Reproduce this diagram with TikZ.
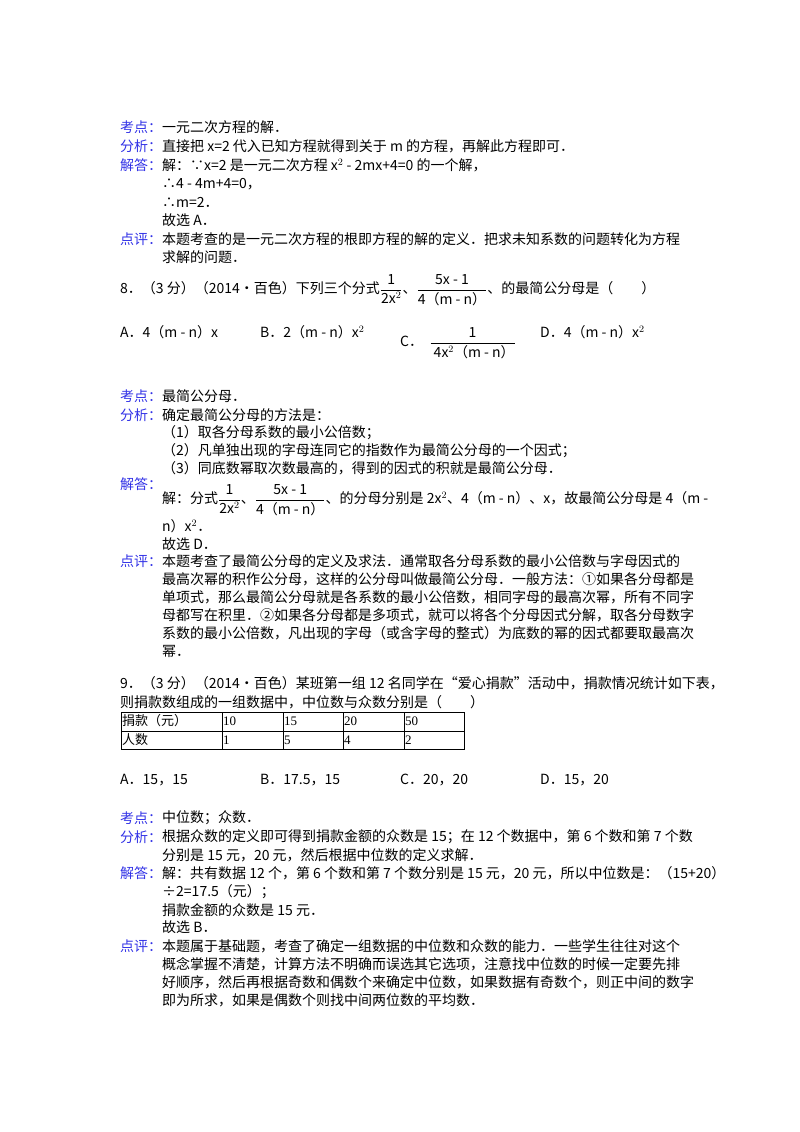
\documentclass[tikz,border=0pt]{standalone}
\usepackage{amsmath}
\usepackage{fix-cm}
\usepackage{fontspec}
\setmainfont{Noto Sans CJK SC}
\newfontfamily\lat{Liberation Serif}
\newcommand{\fr}[2]{$\dfrac{\text{#1}}{\text{#2}}$}
\begin{document}
\begin{tikzpicture}[x=1pt,y=-1pt,
  t/.style={anchor=west,inner sep=0pt,font=\fontsize{14}{16}\selectfont},
  lab/.style={t,text={rgb,255:red,50;green,50;blue,230}},
  cell/.style={anchor=west,inner sep=0pt,font=\fontsize{13}{14}\selectfont}]
\useasboundingbox (0,0) rectangle (800,1132);
% Q7 solution
\node[lab] (l1) at (120,127) {考点：};
\node[t] (a1) at (162,127) {一元二次方程的解．};
\node[lab] (l2) at (120,146) {分析：};
\node[t] (a2) at (162,146) {直接把 x=2 代入已知方程就得到关于 m 的方程，再解此方程即可．};
\node[lab] (l3) at (120,165) {解答：};
\node[t] (a3) at (162,165) {解：∵x=2 是一元二次方程 x$^2$ - 2mx+4=0 的一个解，};
\node[t] (a4) at (162,184) {∴4 - 4m+4=0，};
\node[t] (a5) at (162,202) {∴m=2．};
\node[t] (a6) at (162,220) {故选 A．};
\node[lab] (l4) at (120,239) {点评：};
\node[t] (a7) at (162,239) {本题考查的是一元二次方程的根即方程的解的定义．把求未知系数的问题转化为方程};
\node[t] (a8) at (162,257) {求解的问题．};
% Q8
\node[t] (q8) at (120,290) {8．（3 分）（2014•百色）下列三个分式\fr{1}{2x$^2$}、\fr{5x - 1}{4（m - n）}、的最简公分母是（\quad\quad）};
\node[t] (oA) at (120,332) {A．4（m - n）x};
\node[t] (oB) at (260,332) {B．2（m - n）x$^2$};
\node[t] (oC) at (400,343) {C．\ \ \fr{1}{\ 4x$^2$（m - n）}};
\node[t] (oD) at (540,332) {D．4（m - n）x$^2$};
% Q8 solution
\node[lab] (l5) at (120,396) {考点：};
\node[t] (b1) at (162,396) {最简公分母．};
\node[lab] (l6) at (120,415) {分析：};
\node[t] (b2) at (162,415) {确定最简公分母的方法是：};
\node[t] (b3) at (162,433) {（1）取各分母系数的最小公倍数；};
\node[t] (b4) at (162,451) {（2）凡单独出现的字母连同它的指数作为最简公分母的一个因式；};
\node[t] (b5) at (162,468) {（3）同底数幂取次数最高的，得到的因式的积就是最简公分母．};
\node[lab] (l7) at (120,484) {解答：};
\node[t] (b6) at (162,500) {解：分式\fr{1}{2x$^2$}、\fr{5x - 1}{4（m - n）}、的分母分别是 2x$^2$、4（m - n）、x，故最简公分母是 4（m -};
\node[t] (b7) at (162,526) {n）x$^2$．};
\node[t] (b8) at (162,544) {故选 D．};
\node[lab] (l8) at (120,561) {点评：};
\node[t] (b9) at (162,561) {本题考查了最简公分母的定义及求法．通常取各分母系数的最小公倍数与字母因式的};
\node[t] (b10) at (162,579) {最高次幂的积作公分母，这样的公分母叫做最简公分母．一般方法：①如果各分母都是};
\node[t] (b11) at (162,597) {单项式，那么最简公分母就是各系数的最小公倍数，相同字母的最高次幂，所有不同字};
\node[t] (b12) at (162,615) {母都写在积里．②如果各分母都是多项式，就可以将各个分母因式分解，取各分母数字};
\node[t] (b13) at (162,633) {系数的最小公倍数，凡出现的字母（或含字母的整式）为底数的幂的因式都要取最高次};
\node[t] (b14) at (162,651) {幂．};
% Q9
\node[t] (q9a) at (120,683) {9．（3 分）（2014•百色）某班第一组 12 名同学在“爱心捐款”活动中，捐款情况统计如下表，};
\node[t] (q9b) at (120,702) {则捐款数组成的一组数据中，中位数与众数分别是（\quad\quad）};
\draw[line width=1pt] (121,712) rectangle (464,749);
\draw[line width=0.8pt] (121,731) -- (464,731);
\foreach \xx in {222,283,343,404} \draw[line width=0.8pt] (\xx,712) -- (\xx,749);
\node[cell] (c11) at (122,721) {捐款（元）};
\node[cell] (c12) at (223,721) {\lat 10};
\node[cell] (c13) at (284,721) {\lat 15};
\node[cell] (c14) at (344,721) {\lat 20};
\node[cell] (c15) at (405,721) {\lat 50};
\node[cell] (c21) at (122,740) {人数};
\node[cell] (c22) at (223,740) {\lat 1};
\node[cell] (c23) at (284,740) {\lat 5};
\node[cell] (c24) at (344,740) {\lat 4};
\node[cell] (c25) at (405,740) {\lat 2};
\node[t] (pA) at (120,780) {A．15，15};
\node[t] (pB) at (260,780) {B．17.5，15};
\node[t] (pC) at (400,780) {C．20，20};
\node[t] (pD) at (540,780) {D．15，20};
% Q9 solution
\node[lab] (l9) at (120,818) {考点：};
\node[t] (d1) at (162,818) {中位数；众数．};
\node[lab] (l10) at (120,837) {分析：};
\node[t] (d2) at (162,837) {根据众数的定义即可得到捐款金额的众数是 15；在 12 个数据中，第 6 个数和第 7 个数};
\node[t] (d3) at (162,855) {分别是 15 元，20 元，然后根据中位数的定义求解．};
\node[lab] (l11) at (120,873) {解答：};
\node[t] (d4) at (162,873) {解：共有数据 12 个，第 6 个数和第 7 个数分别是 15 元，20 元，所以中位数是：（15+20）};
\node[t] (d5) at (162,892) {÷2=17.5（元）；};
\node[t] (d6) at (162,910) {捐款金额的众数是 15 元．};
\node[t] (d7) at (162,927) {故选 B．};
\node[lab] (l12) at (120,946) {点评：};
\node[t] (d8) at (162,946) {本题属于基础题，考查了确定一组数据的中位数和众数的能力．一些学生往往对这个};
\node[t] (d9) at (162,964) {概念掌握不清楚，计算方法不明确而误选其它选项，注意找中位数的时候一定要先排};
\node[t] (d10) at (162,982) {好顺序，然后再根据奇数和偶数个来确定中位数，如果数据有奇数个，则正中间的数字};
\node[t] (d11) at (162,1000) {即为所求，如果是偶数个则找中间两位数的平均数．};
\end{tikzpicture}
\end{document}
